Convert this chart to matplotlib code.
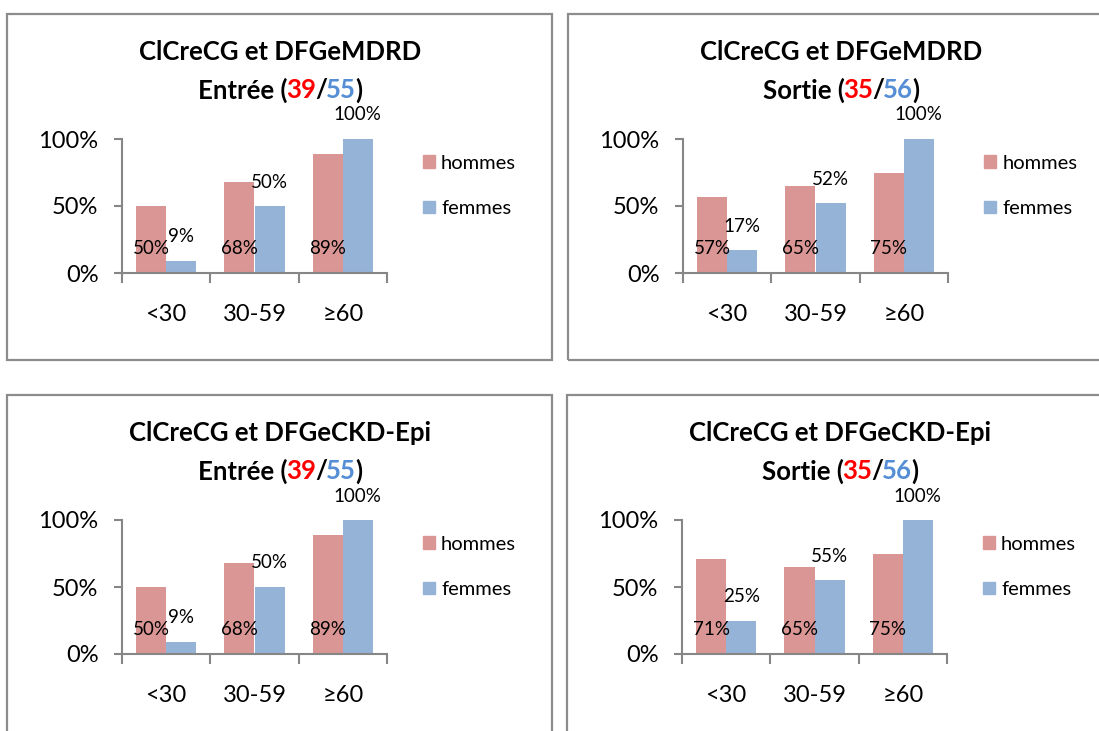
import matplotlib
matplotlib.use('Agg')
import matplotlib.pyplot as plt
from matplotlib.patches import Rectangle, Patch
from matplotlib.offsetbox import TextArea, HPacker, AnchoredOffsetbox

plt.rcParams['font.family'] = ['Lato', 'DejaVu Sans']

W, H = 1099, 731

categories = ['<30', '30-59', '≥60']
series = ['hommes', 'femmes']
titles = ['ClCreCG et DFGeMDRD', 'ClCreCG et DFGeMDRD',
          'ClCreCG et DFGeCKD-Epi', 'ClCreCG et DFGeCKD-Epi']
phases = ['Entrée', 'Sortie', 'Entrée', 'Sortie']
n_hommes = [39, 35, 39, 35]
n_femmes = [55, 56, 55, 56]
hommes = [[50, 68, 89], [57, 65, 75], [50, 68, 89], [71, 65, 75]]
femmes = [[9, 50, 100], [17, 52, 100], [9, 50, 100], [25, 55, 100]]

c_h = '#D99694'
c_f = '#95B3D7'
c_red = '#FF0000'
c_blue = '#558ED5'
grey = '#868686'

# top-left corner of each chart frame, in pixels
origins = [(7, 14), (568, 14), (7, 395), (567, 395)]


def fx(x):
    return x / W


def fy(y):
    return 1 - y / H


fig = plt.figure(figsize=(W / 100, H / 100), dpi=100)
fig.patch.set_facecolor('white')

for i, (px, py) in enumerate(origins):
    # chart frame
    fig.add_artist(Rectangle((fx(px), fy(py + 346)), 545 / W, 346 / H,
                             transform=fig.transFigure, fill=False,
                             edgecolor='#8c8c8c', lw=1.6))

    # title, second line has coloured counts
    fig.text(fx(px + 273), fy(py + 38), titles[i], ha='center', va='center',
             fontsize=18.5, fontweight='bold')
    parts = [(phases[i] + ' (', 'black'), (str(n_hommes[i]), c_red),
             ('/', 'black'), (str(n_femmes[i]), c_blue), (')', 'black')]
    boxes = [TextArea(t, textprops=dict(color=c, fontsize=18.5, fontweight='bold'))
             for t, c in parts]
    line2 = AnchoredOffsetbox(loc='center', child=HPacker(children=boxes, sep=-0.8, pad=0),
                              bbox_to_anchor=(fx(px + 273), fy(py + 76)),
                              bbox_transform=fig.transFigure, frameon=False,
                              pad=0, borderpad=0)
    fig.add_artist(line2)

    # plot area
    ax = fig.add_axes([fx(px + 115), fy(py + 125 + 134), 265 / W, 134 / H])
    x = list(range(len(categories)))
    bw = 0.34
    ax.bar([v - bw / 2 for v in x], [v / 100 for v in hommes[i]], bw, color=c_h)
    ax.bar([v + bw / 2 for v in x], [v / 100 for v in femmes[i]], bw, color=c_f)

    for k in x:
        ax.text(k - bw / 2, 0.18, f'{hommes[i][k]}%', ha='center', va='center',
                fontsize=13.5)
        ax.annotate(f'{femmes[i][k]}%', xy=(k + bw / 2, femmes[i][k] / 100),
                    xytext=(0, 24), textcoords='offset pixels',
                    ha='center', va='center', fontsize=13.5, annotation_clip=False)

    ax.set_xlim(-0.5, 2.5)
    ax.set_ylim(0, 1)
    for s in ['top', 'right']:
        ax.spines[s].set_visible(False)
    for s in ['left', 'bottom']:
        ax.spines[s].set_color(grey)
        ax.spines[s].set_linewidth(1.5)
    ax.set_yticks([0, 0.5, 1])
    ax.set_yticklabels(['0%', '50%', '100%'])
    ax.tick_params(axis='y', length=6, width=1.5, color=grey, pad=11, labelsize=17)
    ax.set_xticks([-0.5, 0.5, 1.5, 2.5])
    ax.set_xticklabels([])
    ax.set_xticks(x, minor=True)
    ax.set_xticklabels(categories, minor=True)
    ax.tick_params(axis='x', which='major', length=7, width=1.5, color=grey)
    ax.tick_params(axis='x', which='minor', length=0, pad=22, labelsize=17)

    handles = [Patch(color=c_h), Patch(color=c_f)]
    fig.legend(handles, series, loc='center left',
               bbox_to_anchor=(fx(px + 416), fy(py + 172)),
               bbox_transform=fig.transFigure, frameon=False, fontsize=14.5,
               handlelength=0.6, handleheight=0.6, handletextpad=0.3,
               labelspacing=1.4, borderpad=0, borderaxespad=0)

fig.savefig('out.png', dpi=100)
